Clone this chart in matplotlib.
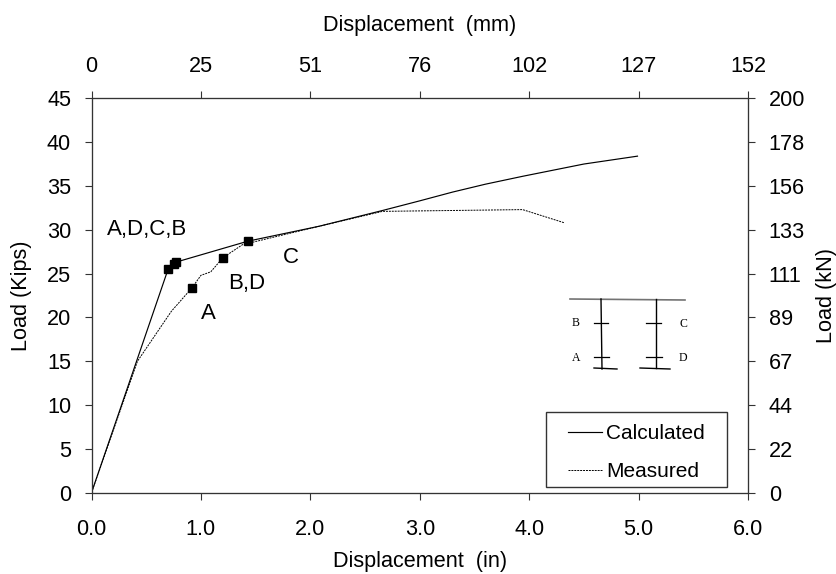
import matplotlib
matplotlib.use('Agg')
import matplotlib.pyplot as plt
from matplotlib.lines import Line2D
from matplotlib.patches import Rectangle

plt.rcParams['font.family'] = ['Liberation Sans', 'DejaVu Sans']
plt.rcParams['font.size'] = 15.6

# calculated curve
calc_x = [0.0, 0.70, 0.75, 0.77, 1.43, 2.08, 2.66, 3.00, 3.30, 3.60, 3.94, 4.50, 4.99]
calc_y = [0.0, 25.5, 26.1, 26.3, 28.7, 30.4, 32.2, 33.3, 34.3, 35.2, 36.1, 37.5, 38.4]
# measured curve
meas_x = [0.0, 0.42, 0.73, 0.92, 1.00, 1.09, 1.20, 1.38, 2.08, 2.66, 3.94, 4.32]
meas_y = [0.0, 15.0, 20.7, 23.4, 24.8, 25.2, 26.8, 28.3, 30.4, 32.1, 32.3, 30.8]
# yield points
mark_x = [0.70, 0.75, 0.77, 0.92, 1.20, 1.43]
mark_y = [25.5, 26.1, 26.3, 23.4, 26.8, 28.7]

x_ticks = [0, 1, 2, 3, 4, 5, 6]
x_labels = ['0.0', '1.0', '2.0', '3.0', '4.0', '5.0', '6.0']
mm_labels = ['0', '25', '51', '76', '102', '127', '152']
y_ticks = [0, 5, 10, 15, 20, 25, 30, 35, 40, 45]
kn_labels = ['0', '22', '44', '67', '89', '111', '133', '156', '178', '200']

fig = plt.figure(figsize=(8.36, 5.74), dpi=100)
ax = fig.add_axes([91.5 / 836, 1 - 492.7 / 574, 656.5 / 836, 394.4 / 574])

ax.plot(calc_x, calc_y, color='black', lw=0.85, label='Calculated')
ax.plot(meas_x, meas_y, color='black', lw=0.7, ls=(0, (2, 1)), label='Measured')
ax.plot(mark_x, mark_y, ls='none', marker='s', ms=5.5, color='black')

ax.set_xlim(0, 6)
ax.set_ylim(0, 45)
ax.set_xticks(x_ticks)
ax.set_xticklabels(x_labels)
ax.set_yticks(y_ticks)
ax.tick_params(axis='x', length=5, width=0.8, pad=14, color='0.2')
ax.tick_params(axis='y', length=5, width=0.8, pad=9.7, color='0.2')
ax.set_xlabel('Displacement  (in)', labelpad=7.5)
ax.set_ylabel('Load (Kips)', labelpad=11)

top = ax.twiny()
top.set_xlim(0, 6)
top.set_xticks(x_ticks)
top.set_xticklabels(mm_labels)
top.tick_params(length=5, width=0.8, pad=10, color='0.2')
top.set_xlabel('Displacement  (mm)', labelpad=18)

right = ax.twinx()
right.set_ylim(0, 45)
right.set_yticks(y_ticks)
right.set_yticklabels(kn_labels)
right.tick_params(length=5, width=0.8, pad=10, color='0.2')
right.set_ylabel('Load (kN)', labelpad=8)

for a in (ax, top, right):
    for sp in a.spines.values():
        sp.set_color('0.2')

ax.text(0.51, 30.0, 'A,D,C,B', ha='center', va='center', fontsize=16)
ax.text(1.07, 20.45, 'A', ha='center', va='center', fontsize=16)
ax.text(1.42, 23.85, 'B,D', ha='center', va='center', fontsize=16)
ax.text(1.82, 26.8, 'C', ha='center', va='center', fontsize=16)

# legend box, in figure pixels
fig.add_artist(Rectangle((546 / 836, 1 - 487 / 574), 181 / 836, 75 / 574,
                         transform=fig.transFigure, fc='white', ec='0.2', lw=1.0, zorder=5))
leg = fig.legend(*ax.get_legend_handles_labels(), loc='center',
                 bbox_to_anchor=(636.5 / 836, 1 - 452.5 / 574),
                 frameon=False, fontsize=15, handlelength=1.6, handletextpad=0.2,
                 labelspacing=0.9, borderpad=0, borderaxespad=0)
leg.set_zorder(6)

# column sketch, in figure pixels
sketch = [
    ([570, 685], [299, 300], 1.2, '0.45'),
    ([601, 602], [299, 369], 1.0, 'black'),
    ([656, 656], [299, 368], 1.0, 'black'),
    ([594, 608], [323, 323], 0.9, 'black'),
    ([646, 661], [323, 323], 0.9, 'black'),
    ([594, 609], [357, 357], 0.9, 'black'),
    ([646, 662], [357, 357], 0.9, 'black'),
    ([594, 617], [368, 369], 1.0, 'black'),
    ([640, 670], [368, 369], 1.0, 'black'),
]
for xs, ys, lw, col in sketch:
    fig.add_artist(Line2D([v / 836 for v in xs], [1 - v / 574 for v in ys],
                          color=col, lw=lw))
for s, px, py in [('B', 576, 323), ('A', 576, 358), ('C', 683, 324), ('D', 683, 358)]:
    fig.text(px / 836, 1 - py / 574, s, family='Liberation Serif', fontsize=8.5,
             ha='center', va='center')

fig.savefig('out.png', dpi=100)
